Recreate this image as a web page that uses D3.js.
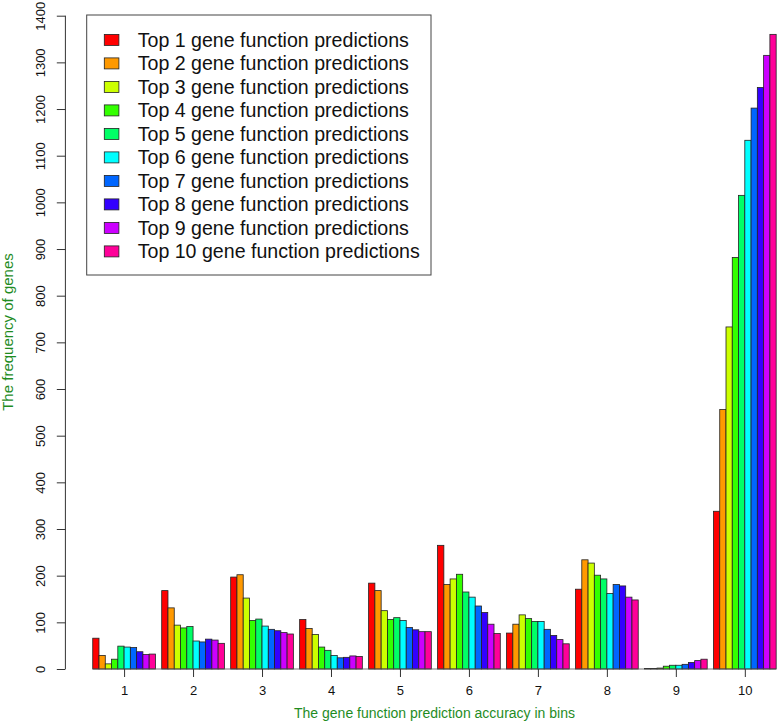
<!DOCTYPE html>
<html>
<head>
<meta charset="utf-8">
<script src="https://cdn.jsdelivr.net/npm/d3@7/dist/d3.min.js"></script>
<style>
  body { margin: 0; background: #fff; }
  svg { display: block; font-family: "Liberation Sans", Arial, sans-serif; }
</style>
</head>
<body>
<svg id="chart" width="778" height="722"></svg>
<script>
// bins on the x axis
var bins = ["1", "2", "3", "4", "5", "6", "7", "8", "9", "10"];
var seriesNames = ["Top 1 gene function predictions", "Top 2 gene function predictions",
  "Top 3 gene function predictions", "Top 4 gene function predictions",
  "Top 5 gene function predictions", "Top 6 gene function predictions",
  "Top 7 gene function predictions", "Top 8 gene function predictions",
  "Top 9 gene function predictions", "Top 10 gene function predictions"];
var colors = ["#FF0000", "#FF9900", "#CCFF00", "#33FF00", "#00FF66",
  "#00FFFF", "#0066FF", "#3300FF", "#CC00FF", "#FF0099"];

// frequency of genes for every series, one value per bin
var top1 = [66, 168, 197, 106, 184, 265, 77, 171, 1, 338];
var top2 = [29, 131, 202, 87, 168, 181, 96, 234, 1, 556];
var top3 = [11, 94, 152, 74, 125, 193, 116, 227, 2, 733];
var top4 = [21, 88, 104, 47, 106, 203, 108, 201, 6, 882];
var top5 = [49, 91, 107, 40, 110, 165, 102, 193, 8, 1015];
var top6 = [47, 60, 92, 29, 104, 154, 102, 162, 8, 1133];
var top7 = [46, 58, 85, 24, 89, 135, 85, 181, 10, 1202];
var top8 = [37, 64, 82, 25, 84, 121, 72, 178, 14, 1246];
var top9 = [31, 62, 78, 28, 80, 96, 63, 154, 18, 1315];
var top10 = [32, 55, 75, 27, 80, 76, 54, 148, 21, 1360];
var yTicks = [0, 100, 200, 300, 400, 500, 600, 700, 800, 900, 1000, 1100, 1200, 1300, 1400];

var series = [top1, top2, top3, top4, top5, top6, top7, top8, top9, top10];

var svg = d3.select("#chart");
var axisColor = "#333";
var labelColor = "#1f8c1f";

// bar units like R barplot(beside=TRUE): each group 10 bars + 1 space
var nSeries = series.length;
var groupWidth = nSeries + 1;
var x = d3.scaleLinear().domain([-3.36, 114.36]).range([65.4, 803.5]);
var y = d3.scaleLinear().domain([0, 1400]).range([669, 15.7]);

function barLeft(bin, s) {
    return 1 + bin * groupWidth + s;
}

// bars
for (var s = 0; s < nSeries; s++) {
    svg.append("g")
    .selectAll("rect")
    .data(series[s])
    .join("rect")
    .attr("x", function(d, i) { return x(barLeft(i, s)); })
    .attr("y", function(d) { return y(d); })
    .attr("width", x(1) - x(0))
    .attr("height", function(d) { return y(0) - y(d); })
    .attr("fill", colors[s])
    .attr("stroke", "#222")
    .attr("stroke-width", 0.8);
}

// baseline under the bars
svg.append("line")
.attr("x1", x(1)).attr("x2", x(barLeft(bins.length - 1, nSeries)))
.attr("y1", y(0)).attr("y2", y(0))
.attr("stroke", "#555").attr("stroke-width", 0.8);

// x axis: ticks at group centres, no axis line
var xAxis = d3.axisBottom(x)
.tickValues(bins.map(function(b, i) { return 1 + i * groupWidth + nSeries / 2; }))
.tickFormat(function(d, i) { return bins[i]; })
.tickSize(8)
.tickSizeOuter(0);
var gx = svg.append("g").attr("transform", "translate(0," + y(0) + ")").call(xAxis);
gx.select(".domain").remove();
gx.selectAll(".tick line").attr("stroke", axisColor);
gx.selectAll(".tick text")
.attr("y", 26).attr("dy", 0)
.attr("fill", "#111")
.style("font-size", "13px")
.style("font-family", "Liberation Sans, Arial, sans-serif");

// y axis
var yAxis = d3.axisLeft(y).tickValues(yTicks).tickSize(8.6).tickSizeOuter(0).tickFormat(d3.format("d"));
var gy = svg.append("g").attr("transform", "translate(" + x(-3.36) + ",0)").call(yAxis);
gy.select(".domain").attr("stroke", axisColor)
.attr("d", "M0," + y(0) + "V" + y(1400));
gy.selectAll(".tick line").attr("stroke", axisColor);
gy.selectAll(".tick text")
.attr("x", 0).attr("dy", 0)
.attr("text-anchor", "middle")
.attr("transform", "translate(-20.4,0) rotate(-90)")
.attr("fill", "#111")
.style("font-size", "13px")
.style("font-family", "Liberation Sans, Arial, sans-serif");

// axis titles
svg.append("text")
.attr("x", 434.5).attr("y", 718.3)
.attr("text-anchor", "middle")
.attr("fill", labelColor)
.style("font-size", "14px")
.text("The gene function prediction accuracy in bins");

svg.append("text")
.attr("transform", "translate(12.7,332) rotate(-90)")
.attr("text-anchor", "middle")
.attr("fill", labelColor)
.style("font-size", "15px")
.text("The frequency of genes");

// legend
var legend = svg.append("g");
legend.append("rect")
.attr("x", 86.7).attr("y", 15)
.attr("width", 344.3).attr("height", 260)
.attr("fill", "#fff")
.attr("stroke", "#444").attr("stroke-width", 1);

var rowH = 23.5;
var rows = legend.selectAll("g.row")
.data(seriesNames)
.join("g")
.attr("class", "row")
.attr("transform", function(d, i) { return "translate(0," + (40 + i * rowH) + ")"; });

rows.append("rect")
.attr("x", 104.3).attr("y", -5.6)
.attr("width", 14.6).attr("height", 11)
.attr("fill", function(d, i) { return colors[i]; })
.attr("stroke", "#222").attr("stroke-width", 0.8);

rows.append("text")
.attr("x", 137.7).attr("y", 6.9)
.attr("fill", "#111")
.style("font-size", "19.6px")
.text(function(d) { return d; });
</script>
</body>
</html>
